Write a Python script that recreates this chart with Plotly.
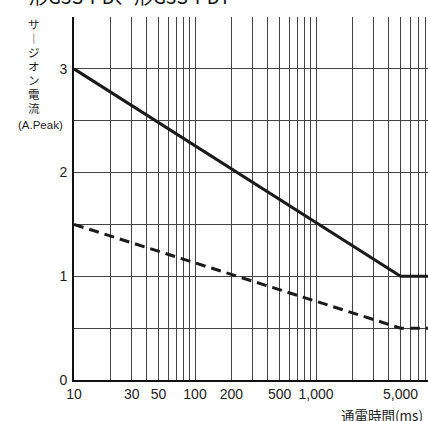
import plotly.graph_objects as go

# data
time_ms = [10, 5000, 10000]
surge_solid = [3.0, 1.0, 1.0]
surge_dashed = [1.5, 0.5, 0.5]
x_tickvals = [10, 30, 50, 100, 200, 500, 1000, 5000, 10000]
x_ticktext = ["10", "30", "50", "100", "200", "500", "1,000", "5,000", "10,000"]
x_gridvals = [m * d for d in (10, 100, 1000) for m in range(2, 10)] + [100, 1000]
y_tickvals = [0, 1, 2, 3]
y_gridvals = [0.5, 1, 1.5, 2, 2.5, 3, 3.5]
title_text = "形G3S-PD、形G3S-PDT"
ylabel_chars = ["サ", "︱", "ジ", "オ", "ン", "電", "流"]
ylabel_unit = "(A.Peak)"
xlabel_text = "通電時間(ms)"

W, H = 428, 421
L, R, T, B = 74, 0, 17, 41
PW, PH = W - L - R, H - T - B
DEC = 121.0

NUM = "Liberation Sans, Arial, sans-serif"
JP = "Noto Sans CJK JP, sans-serif"
JP_TIGHT = "Liberation Sans, Noto Sans CJK JP, sans-serif"

fig = go.Figure()
fig.add_trace(go.Scatter(x=time_ms, y=surge_solid, mode="lines",
                         line=dict(color="#1a1a1a", width=3), showlegend=False))
fig.add_trace(go.Scatter(x=time_ms, y=surge_dashed, mode="lines",
                         line=dict(color="#1a1a1a", width=3, dash="10px,6px"), showlegend=False))

def px_x(p):
    return (p - L) / PW

def px_y(p):
    return (H - B - p) / PH

ann = []
ann.append(dict(text=title_text, x=px_x(27), y=px_y(-5), xref="paper", yref="paper",
                xanchor="left", yanchor="middle", showarrow=False,
                font=dict(family=JP, size=19, color="#111")))
for i, ch in enumerate(ylabel_chars):
    ann.append(dict(text=ch, x=px_x(34), y=px_y(25 + 14 * i), xref="paper", yref="paper",
                    xanchor="center", yanchor="middle", showarrow=False, borderpad=0,
                    font=dict(family=JP_TIGHT, size=11.5, color="#222")))
ann.append(dict(text=ylabel_unit, x=px_x(40), y=px_y(125), xref="paper", yref="paper",
                xanchor="center", yanchor="middle", showarrow=False, borderpad=0,
                font=dict(family=JP_TIGHT, size=11.5, color="#222")))
ann.append(dict(text=xlabel_text, x=px_x(339), y=px_y(415), xref="paper", yref="paper",
                xanchor="left", yanchor="middle", showarrow=False,
                font=dict(family=JP, size=13.5, color="#222")))

fig.update_layout(
    width=W, height=H,
    margin=dict(l=L, r=R, t=T, b=B, pad=0),
    paper_bgcolor="white", plot_bgcolor="white",
    annotations=ann,
    xaxis=dict(type="log", range=[1, 1 + PW / DEC],
               tickvals=x_tickvals, ticktext=x_ticktext, ticks="",
               showgrid=False, zeroline=False, automargin=False,
               showline=True, linecolor="#111", linewidth=2,
               tickfont=dict(family=NUM, size=14, color="#222"),
               ticklabelstandoff=0,
               minor=dict(tickvals=x_gridvals, showgrid=True, gridcolor="#444", gridwidth=1, ticks="")),
    yaxis=dict(range=[0, 3.5], tickvals=y_tickvals, ticks="",
               showgrid=False, zeroline=False, automargin=False,
               showline=True, linecolor="#111", linewidth=2,
               tickfont=dict(family=NUM, size=14, color="#222"),
               ticklabelstandoff=2,
               minor=dict(tickvals=y_gridvals, showgrid=True, gridcolor="#444", gridwidth=1, ticks="")),
)

fig.write_html("out.html", config={"displayModeBar": False},
               post_script="document.body.style.margin='0';document.body.style.overflow='hidden';")
